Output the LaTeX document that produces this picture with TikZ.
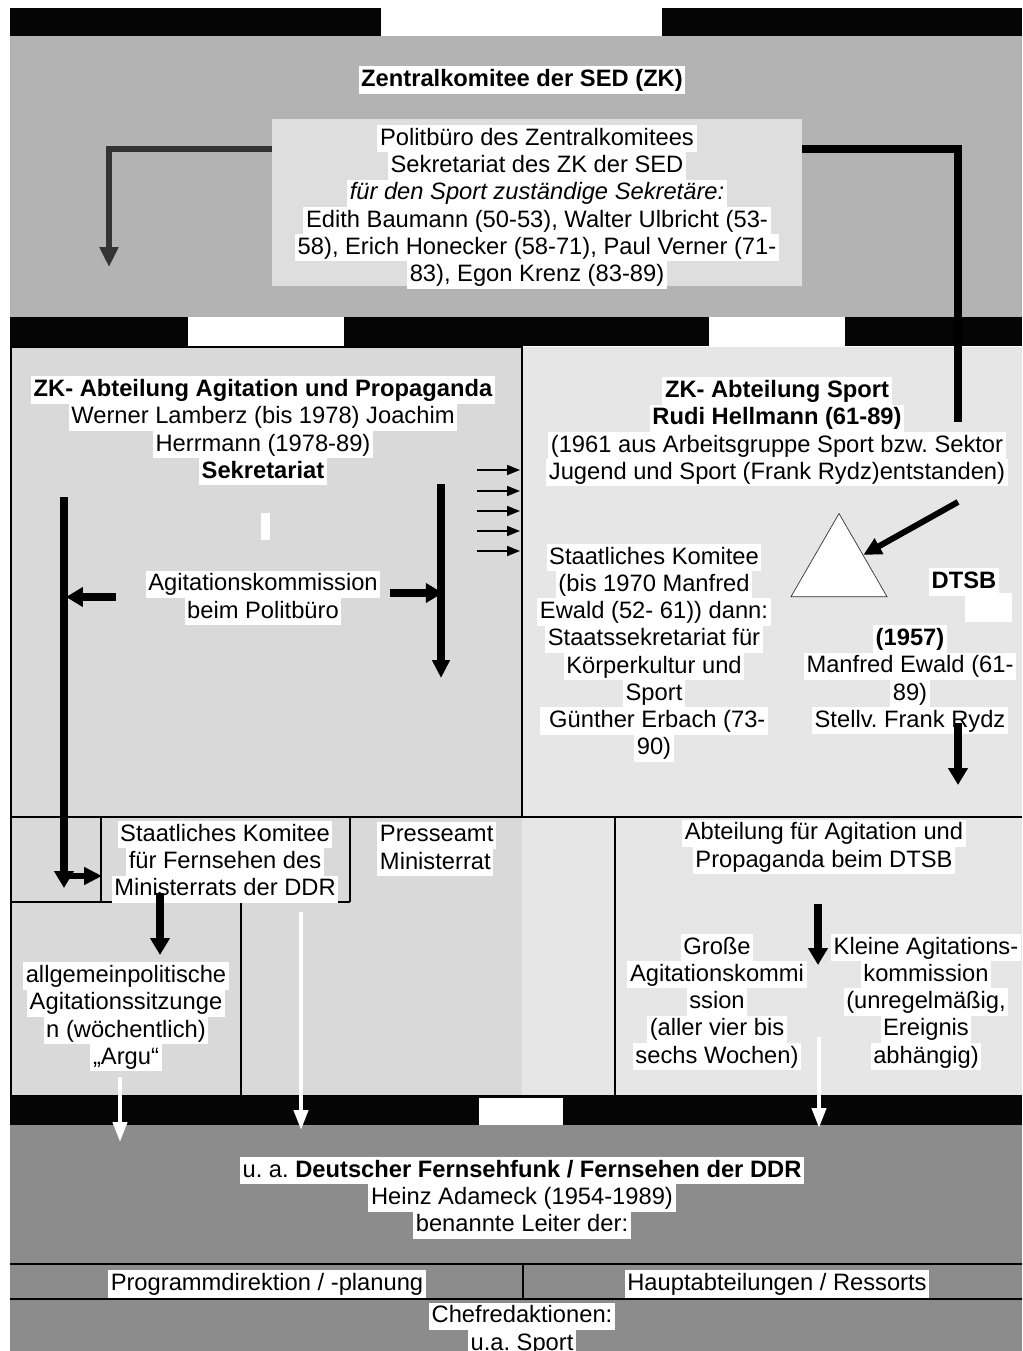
\documentclass[tikz,border=0pt]{standalone}
\usepackage{fontspec}
\setmainfont{Liberation Sans}
\usepackage{xcolor}
\usepackage{tikz}
\usetikzlibrary{arrows.meta, shapes.geometric}
\definecolor{zkgray}{HTML}{B3B3B3}
\definecolor{pbgray}{HTML}{DEDEDE}
\definecolor{agitgray}{HTML}{D9D9D9}
\definecolor{sportgray}{HTML}{E6E6E6}
\definecolor{ffgray}{HTML}{8C8C8C}
\definecolor{barblack}{HTML}{050505}
\definecolor{darkline}{HTML}{333333}
\def\hl#1{{\fboxsep=0pt\colorbox{white}{\kern1.5pt\rule[-4pt]{0pt}{15.5pt}#1\kern1.5pt}}}
\frenchspacing

\begin{document}
\begin{tikzpicture}[x=0.02cm, y=-0.02cm,
  txt/.style={align=center, inner sep=0pt, yshift=-1.1pt, font=\fontsize{13.5}{15.5}\selectfont},
  lineframe/.style={black, line width=0.6pt},
  arrowheavy/.style={line width=4.5pt, -{Triangle[width=0.38cm,length=0.34cm]}},
  arrowmid/.style={line width=3.4pt, -{Triangle[width=0.34cm,length=0.36cm]}},
  arrowthin/.style={line width=1pt, -{Triangle[width=0.2cm,length=0.26cm]}},
  arrowwhite/.style={white, line width=2.3pt, -{Triangle[width=0.28cm,length=0.4cm]}}]
\path[use as bounding box, fill=white] (0,0) rectangle (1022,1351);

% ZK
\fill[barblack] (10,8) rectangle (381,36);
\fill[barblack] (662,8) rectangle (1022,36);
\fill[zkgray] (10,36) rectangle (1022,317);
\fill[pbgray] (272,119) rectangle (802,286);
\node[txt] (zk) at (522,78) {\hl{\textbf{Zentralkomitee der SED (ZK)}}};
\node[txt] (pb) at (537,205) {\hl{Politbüro des Zentralkomitees}\\\hl{Sekretariat des ZK der SED}\\
  \hl{\textit{für den Sport zuständige Sekretäre:}}\\\hl{Edith Baumann (50-53), Walter Ulbricht (53-}\\
  \hl{58), Erich Honecker (58-71), Paul Verner (71-}\\\hl{83), Egon Krenz (83-89)}};

\fill[barblack] (10,317) rectangle (188,346);
\fill[barblack] (344,317) rectangle (709,346);
\fill[barblack] (845,317) rectangle (1022,346);

% Abteilungen
\fill[agitgray] (11,347) rectangle (522,1096);
\fill[sportgray] (522,347) rectangle (1022,1096);
\draw[lineframe] (11,347) rectangle (522,817);
\draw[lineframe] (11,817) -- (1022,817);
\draw[lineframe] (11,817) -- (11,1096);
\draw[lineframe] (101,817) -- (101,902);
\draw[lineframe] (11,902) -- (350,902);
\draw[lineframe] (350,817) -- (350,902);
\draw[lineframe] (241,902) -- (241,1096);
\draw[lineframe] (615,817) -- (615,1096);
\draw[lineframe] (11,1096) -- (1022,1096);

\node[txt] (agit) at (263,429) {\hl{\textbf{ZK- Abteilung Agitation und Propaganda}}\\\hl{Werner Lamberz (bis 1978) Joachim}\\
  \hl{Herrmann (1978-89)}\\\hl{\textbf{Sekretariat}}};
\fill[white] (261,513) rectangle (270,540);
\node[txt] (agkom) at (263,596) {\hl{Agitationskommission}\\\hl{beim Politbüro}};

\node[txt] (sport) at (777,430) {\hl{\textbf{ZK- Abteilung Sport}}\\\hl{\textbf{Rudi Hellmann (61-89)}}\\
  \hl{(1961 aus Arbeitsgruppe Sport bzw. Sektor}\\\hl{Jugend und Sport (Frank Rydz)entstanden)}};
\node[txt] (stko) at (654,651) {\hl{Staatliches Komitee}\\\hl{(bis 1970 Manfred}\\\hl{Ewald (52- 61)) dann:}\\
  \hl{Staatssekretariat für}\\\hl{Körperkultur und}\\\hl{Sport}\\\hl{ Günther Erbach (73-}\\\hl{90)}};
\node[regular polygon, regular polygon sides=3, draw=darkline, fill=white, minimum size=2.22cm, inner sep=0pt] (tri) at (839,569) {};
\node[txt] (dtsb) at (964,580) {\hl{\textbf{DTSB}}};
\fill[white] (965,593) rectangle (1012,622);
\node[txt] (ewald) at (910,678) {\hl{\textbf{(1957)}}\\\hl{Manfred Ewald (61-}\\\hl{89)}\\\hl{Stellv. Frank Rydz}};

\node[txt] (fsko) at (225,860) {\hl{Staatliches Komitee}\\\hl{für Fernsehen des}\\\hl{Ministerrats der DDR}};
\node[txt, anchor=west, align=left] (presse) at (377,847) {\hl{Presseamt}\\\hl{Ministerrat}};
\node[txt] (dtsbag) at (824,845) {\hl{Abteilung für Agitation und}\\\hl{Propaganda beim DTSB}};
\node[txt] (argu) at (126,1015) {\hl{allgemeinpolitische}\\\hl{Agitationssitzunge}\\\hl{n (wöchentlich)}\\\hl{„Argu“}};
\node[txt] (grosse) at (717,1000) {\hl{Große}\\\hl{Agitationskommi}\\\hl{ssion}\\\hl{(aller vier bis}\\\hl{sechs Wochen)}};
\node[txt] (kleine) at (926,1000) {\hl{Kleine Agitations-}\\\hl{kommission}\\\hl{(unregelmäßig,}\\\hl{Ereignis}\\\hl{abhängig)}};

% Fernsehen
\fill[barblack] (10,1096) rectangle (1022,1125);
\fill[white] (479,1098) rectangle (563,1125);
\fill[ffgray] (10,1125) rectangle (1022,1351);
\draw[lineframe] (10,1264) -- (1022,1264);
\draw[lineframe] (10,1299) -- (1022,1299);
\draw[lineframe] (523,1264) -- (523,1299);
\node[txt] (dff) at (522,1196) {\hl{u. a. \textbf{Deutscher Fernsehfunk / Fernsehen der DDR}}\\\hl{Heinz Adameck (1954-1989)}\\\hl{benannte Leiter der:}};
\node[txt] (prog) at (267,1282) {\hl{Programmdirektion / -planung}};
\node[txt] (haupt) at (777,1282) {\hl{Hauptabteilungen / Ressorts}};
\node[txt] (chef) at (522,1328) {\hl{Chefredaktionen:}\\\hl{u.a. Sport}};

% Pfeile
\coordinate (pbW) at (272,149);
\coordinate (pbWend) at (109,267);
\coordinate (pbE) at (802,149);
\coordinate (sportN) at (958,422);
\draw[darkline, line width=3.4pt, -{Triangle[width=0.36cm,length=0.4cm]}] (pbW) -| (pbWend);
\draw[line width=4.5pt] (pbE) -| (sportN);

\coordinate (agL1) at (64,497);
\coordinate (agL2) at (64,888);
\coordinate (agL3) at (66,876);
\coordinate (fskoW) at (102,876);
\coordinate (agkomL) at (116,597);
\coordinate (agkomLend) at (66,597);
\coordinate (agkomR) at (390,593);
\coordinate (agR2) at (441,593);
\coordinate (agR1) at (441,484);
\coordinate (agR3) at (441,678);
\draw[arrowheavy] (agL1) -- (agL2);
\draw[arrowmid] (agL3) -- (fskoW);
\draw[arrowheavy] (agkomL) -- (agkomLend);
\draw[arrowheavy, shorten >=-1pt] (agkomR) -- (agR2);
\draw[arrowmid, line width=4pt] (agR1) -- (agR3);
\foreach \y in {470,491,511,531,551}
  \draw[arrowthin] (477,\y) -- (520,\y);

\coordinate (dtsbin) at (958,502);
\draw[arrowmid] (dtsbin) -- (tri.side 3);
\coordinate (ewaldS) at (958,723);
\coordinate (dtsbagN) at (958,785);
\draw[arrowheavy] (ewaldS) -- (dtsbagN);

\coordinate (fskoS) at (160,893);
\coordinate (arguN) at (160,955);
\draw[arrowheavy] (fskoS) -- (arguN);
\coordinate (dtsbagS) at (818,904);
\coordinate (komN) at (818,965);
\draw[arrowheavy] (dtsbagS) -- (komN);

\coordinate (arguS) at (120,1077);
\coordinate (ffA) at (120,1142);
\coordinate (presseS) at (301,912);
\coordinate (ffB) at (301,1130);
\coordinate (komS) at (819,1037);
\coordinate (ffC) at (819,1128);
\draw[arrowwhite] (arguS) -- (ffA);
\draw[arrowwhite] (presseS) -- (ffB);
\draw[arrowwhite] (komS) -- (ffC);
\end{tikzpicture}
\end{document}
